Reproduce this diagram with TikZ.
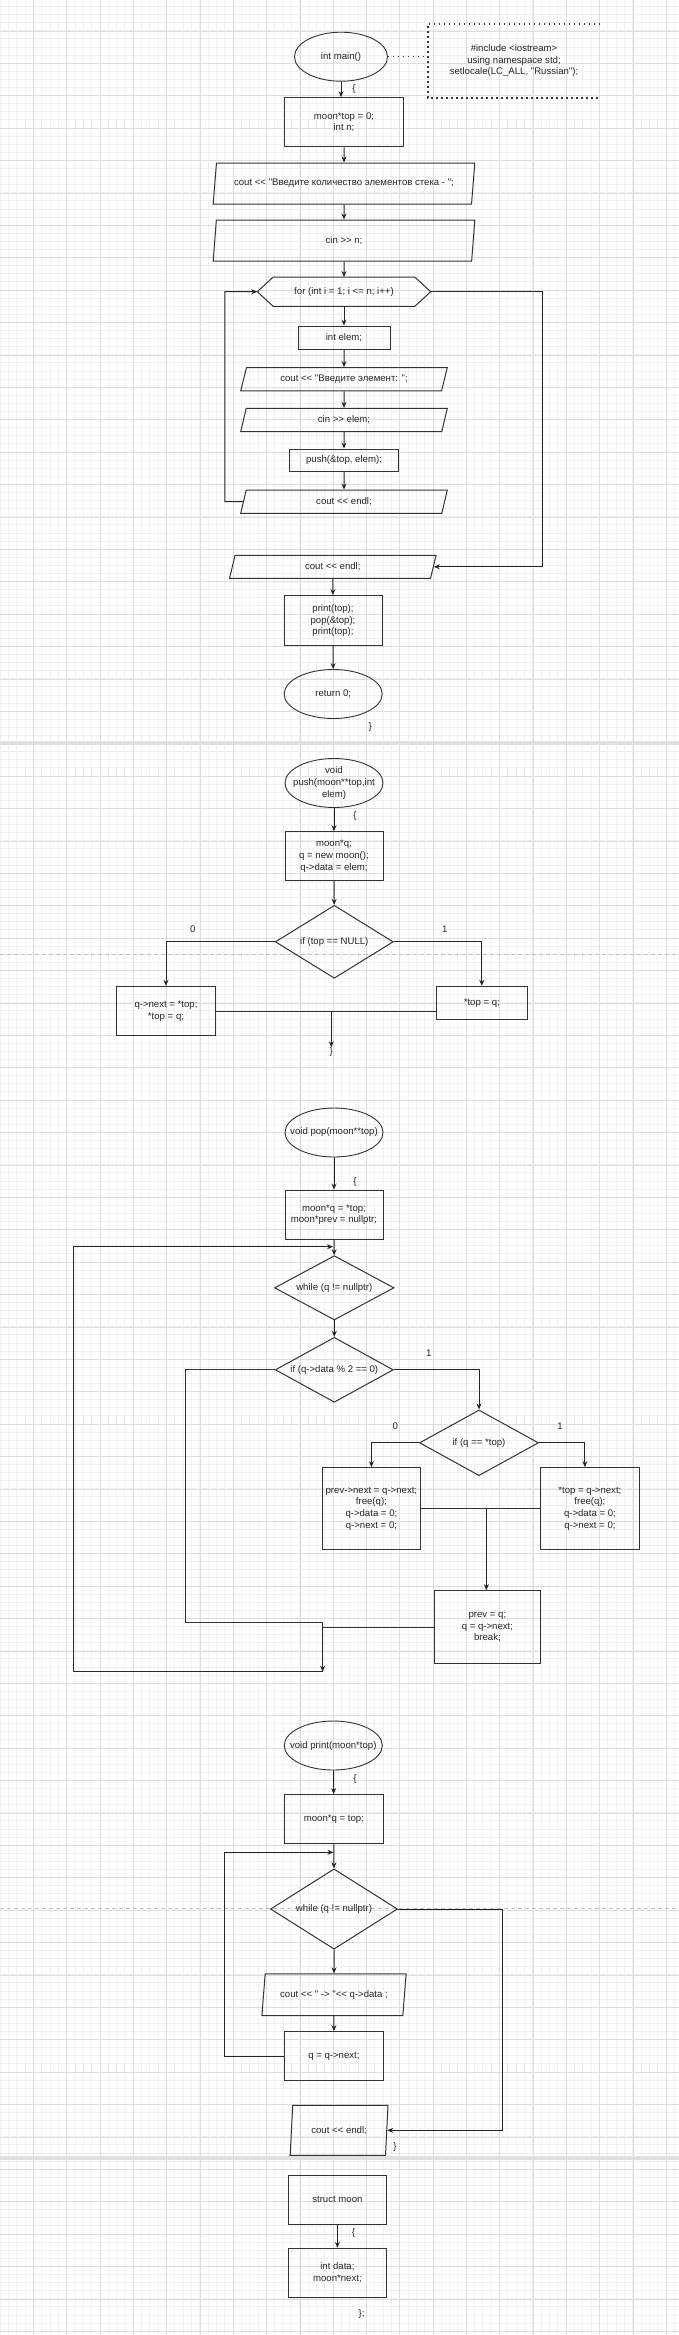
\documentclass[tikz,border=0pt]{standalone}
\usepackage{fontspec}
\newfontfamily\flowfont{Liberation Sans}
\usetikzlibrary{shapes.geometric, arrows.meta}

\tikzset{
  block/.style={rectangle, draw=black!80, line width=1pt, inner sep=0pt, align=center},
  term/.style={ellipse, draw=black!80, line width=0.9pt, minimum width=98pt, minimum height=49pt, inner xsep=-12pt, inner ysep=0pt, align=center},
  iobox/.style={trapezium, trapezium stretches body, draw=black!80, line width=1pt, inner sep=0pt},
  decision/.style={diamond, draw=black!80, line width=1pt, inner sep=0pt, aspect=1.8},
  flow/.style={-{Stealth[length=6pt,width=5pt]}, line width=1pt, black!85},
  wire/.style={line width=1pt, black!80},
  sign/.style={inner sep=0pt},
}

\begin{document}
\begin{tikzpicture}[x=1pt, y=-1pt, every node/.append style={font=\flowfont\fontsize{9.6}{11.7}\selectfont, text=black!85}]

            \useasboundingbox (0, 0) rectangle (679, 2335);
            \fill[white] (0, 0) rectangle (679, 2335);

            %%paper
            \foreach \gx in {0,8.325,...,679} \draw[black!6, line width=0.8pt] (\gx, 0) -- (\gx, 2335);
            \foreach \gy in {6.4,14.5,...,2335} \draw[black!6, line width=0.8pt] (0, \gy) -- (679, \gy);
            \foreach \gx in {33.3,66.6,...,679} \draw[black!13] (\gx, 0) -- (\gx, 2335);
            \foreach \gy in {30.7,63.1,...,2335} \draw[black!13] (0, \gy) -- (679, \gy);
            \fill[black!12] (0, 740.7) rectangle (679, 745);
            \fill[black!12] (0, 2156) rectangle (679, 2160);
            \draw[black!25, dash pattern=on 4pt off 3pt] (0, 954) -- (679, 954);
            \draw[black!25, dash pattern=on 4pt off 3pt] (0, 1907.7) -- (679, 1907.7);

            %%main
            \node[term, minimum width=93pt] at(341, 56.7)(main){int main()};
            \node[align=center, minimum width=172pt, minimum height=73.7pt, inner sep=0pt] at(514, 60.8)(note){\#include <iostream>\\using namespace std;\\setlocale(LC\_ALL, "Russian");};
            \draw[black!80, line width=1.5pt, dash pattern=on 1.5pt off 3.5pt] (note.north east) -- (note.north west) -- (note.south west) -- (note.south east);
            \draw[black!80, line width=1.5pt, dash pattern=on 1.5pt off 3.5pt] (main.east) -- (main.east -| note.west);
            \node[sign] at(354, 89.3)(mainopen){\{};

            \node[block, minimum width=119.6pt, minimum height=49.3pt] at(344, 122.3)(init){moon*top = 0;\\int n;};
            \node[iobox, trapezium left angle=69, trapezium right angle=111, minimum width=261.6pt, minimum height=41pt] at(344, 183.5)(askn){cout << "Введите количество элементов стека - ";};
            \node[iobox, trapezium left angle=69, trapezium right angle=111, minimum width=261.6pt, minimum height=41pt] at(344, 240.5)(readn){cin >> n;};

            \node[minimum width=173pt, minimum height=29pt, inner sep=0pt] at(344, 291.7)(forloop){for (int i = 1; i <= n; i++)};
            \draw[wire] (forloop.west) -- ([xshift=16pt]forloop.north west) -- ([xshift=-16pt]forloop.north east) -- (forloop.east) -- ([xshift=-16pt]forloop.south east) -- ([xshift=16pt]forloop.south west) -- cycle;

            \node[block, minimum width=92pt, minimum height=23.3pt] at(344, 337.7)(decl){int elem;};
            \node[iobox, trapezium left angle=56, trapezium right angle=124, minimum width=206.6pt, minimum height=23.3pt] at(344, 379.3)(askel){cout << "Введите элемент: ";};
            \node[iobox, trapezium left angle=56, trapezium right angle=124, minimum width=206.6pt, minimum height=23.3pt] at(344, 420)(readel){cin >> elem;};
            \node[block, minimum width=109pt, minimum height=22.3pt] at(344, 460.2)(pushcall){push(\&top, elem);};
            \node[iobox, trapezium left angle=56, trapezium right angle=124, minimum width=206.6pt, minimum height=23.3pt] at(344, 501.7)(endla){cout << endl;};

            \node[iobox, trapezium left angle=56, trapezium right angle=124, minimum width=206.5pt, minimum height=23pt] at(332.8, 566.8)(endlb){cout << endl;};
            \node[block, minimum width=98pt, minimum height=50pt] at(333, 620.7)(calls){print(top);\\pop(\&top);\\print(top);};
            \node[term] at(333.2, 694)(ret){return 0;};
            \node[sign] at(370.3, 726.7)(mainclose){\}};

            \coordinate (backa) at(224.8, 501.7);
            \coordinate (exita) at(542.7, 291.7);

            \draw[flow] (main.south) -- (main.south |- init.north);
            \draw[flow] (init) -- (askn);
            \draw[flow] (askn) -- (readn);
            \draw[flow] (readn) -- (forloop);
            \draw[flow] (forloop) -- (decl);
            \draw[flow] (decl) -- (askel);
            \draw[flow] (askel) -- (readel);
            \draw[flow] (readel) -- (pushcall);
            \draw[flow] (pushcall) -- (endla);
            \draw[flow] (endla.west) -- (backa) |- (forloop.west);
            \draw[flow] (forloop.east) -- (exita) |- (endlb.east);
            \draw[flow] (endlb) -- (calls);
            \draw[flow] (calls) -- (ret);

            %%push
            \node[term] at(334, 783)(pushfn){void\\push(moon**top,int\\elem)};
            \node[sign] at(355, 816)(pushopen){\{};
            \node[block, minimum width=98pt, minimum height=49pt] at(334, 856.2)(pushvar){moon*q;\\q = new moon();\\q->data = elem;};
            \node[decision, aspect=1.6, minimum width=118pt, minimum height=73pt] at(334.3, 941.8)(isnull){if (top == NULL)};
            \node[sign] at(192.7, 929.3)(nullno){0};
            \node[sign] at(444.8, 929.3)(nullyes){1};
            \node[block, minimum width=98.3pt, minimum height=49.3pt] at(166, 1011)(linkq){q->next = *top;\\*top = q;};
            \node[block, minimum width=90.5pt, minimum height=33pt] at(481.8, 1002.8)(settop){*top = q;};
            \node[sign] at(331.3, 1052)(pushclose){\}};
            \coordinate (joina) at(331.3, 1011);

            \draw[flow] (pushfn) -- (pushvar);
            \draw[flow] (pushvar) -- (isnull);
            \draw[flow] (isnull.west) -| (linkq.north);
            \draw[flow] (isnull.east) -| (settop.north);
            \draw[wire] (linkq.east) -- (linkq.east -| settop.west);
            \draw[flow] (joina) -- (pushclose.north);

            %%pop
            \node[term] at(334, 1132.5)(popfn){void pop(moon**top)};
            \node[sign] at(355, 1182.3)(popopen){\{};
            \node[block, minimum width=98pt, minimum height=49.3pt] at(334, 1214.7)(popvar){moon*q = *top;\\moon*prev = nullptr;};
            \node[decision, minimum width=119.5pt, minimum height=64.3pt] at(334.3, 1287.8)(popwhile){while (q != nullptr)};
            \node[decision, minimum width=118pt, minimum height=65pt] at(334.3, 1369.8)(iseven){if (q->data \% 2 == 0)};
            \node[sign] at(428.8, 1353.3)(evenyes){1};
            \node[decision, minimum width=119pt, minimum height=65.7pt] at(479, 1442.8)(isfirst){if (q == *top)};
            \node[sign] at(395.4, 1426)(firstno){0};
            \node[sign] at(560, 1426)(firstyes){1};
            \node[block, minimum width=98.3pt, minimum height=81.7pt] at(371.4, 1508.5)(unlink){prev->next = q->next;\\free(q);\\q->data = 0;\\q->next = 0;};
            \node[block, minimum width=98.7pt, minimum height=81.7pt] at(589.9, 1508.5)(poptop){*top = q->next;\\free(q);\\q->data = 0;\\q->next = 0;};
            \node[block, minimum width=106pt, minimum height=73.3pt] at(487.4, 1627.3)(advance){prev = q;\\q = q->next;\\break;};

            \coordinate (joinb) at(486.4, 1508.5);
            \coordinate (evenleft) at(185, 1622.7);
            \coordinate (sink) at(322.6, 1622.7);
            \coordinate (low) at(322.6, 1671.7);
            \coordinate (outer) at(73, 1671.7);
            \coordinate (popback) at(333, 1246.7);

            \draw[flow] (popfn) -- (popvar);
            \draw[flow] (popvar) -- (popwhile);
            \draw[flow] (popwhile) -- (iseven);
            \draw[flow] (iseven.east) -| (isfirst.north);
            \draw[flow] (isfirst.west) -| (unlink.north);
            \draw[flow] (isfirst.east) -| ([xshift=-5pt]poptop.north);
            \draw[wire] (unlink.east) -- (poptop.west);
            \draw[flow] (joinb) -- (joinb |- advance.north);
            \draw[wire] (iseven.west) -| (evenleft) -- (sink);
            \draw[wire] (advance.west) -- (advance.west -| sink);
            \draw[flow] (sink) -- (low);
            \draw[flow] (low) -- (outer) |- (popback);

            %%print
            \node[term] at(333.3, 1745.5)(printfn){void print(moon*top)};
            \node[sign] at(355, 1778.7)(printopen){\{};
            \node[block, minimum width=98.8pt, minimum height=49.3pt] at(333.9, 1819.3)(printvar){moon*q = top;};
            \node[decision, aspect=1.6, minimum width=127pt, minimum height=80.3pt] at(334, 1909)(prwhile){while (q != nullptr)};
            \node[iobox, trapezium left angle=70, trapezium right angle=110, minimum width=144.2pt, minimum height=41.7pt] at(334, 1994.8)(prout){cout << " -> "<< q->data ;};
            \node[block, minimum width=98.8pt, minimum height=49.3pt] at(333.9, 2056.3)(prnext){q = q->next;};
            \node[iobox, trapezium left angle=73, trapezium right angle=107, minimum width=97.8pt, minimum height=50pt] at(339.1, 2130.3)(prendl){cout << endl;};
            \node[sign] at(395, 2147.3)(printclose){\}};

            \coordinate (prleft) at(224, 2056.3);
            \coordinate (prback) at(333.5, 1852.3);
            \coordinate (prexit) at(502.4, 1909);

            \draw[flow] (printfn) -- (printvar);
            \draw[flow] (printvar) -- (prwhile);
            \draw[flow] (prwhile) -- (prout);
            \draw[flow] (prout) -- (prnext);
            \draw[flow] (prnext.west) -- (prleft) |- (prback);
            \draw[flow] (prwhile.east) -- (prexit) |- (prendl.east);

            %%struct
            \node[block, minimum width=98pt, minimum height=49pt] at(337.4, 2199.5)(moon){struct moon};
            \node[sign] at(353.4, 2232.7)(moonopen){\{};
            \node[block, minimum width=98pt, minimum height=49pt] at(337.4, 2272.8)(fields){int data;\\moon*next;};
            \node[sign] at(361.6, 2314)(moonclose){\};};
            \draw[flow] (moon) -- (fields);

\end{tikzpicture}
\end{document}
